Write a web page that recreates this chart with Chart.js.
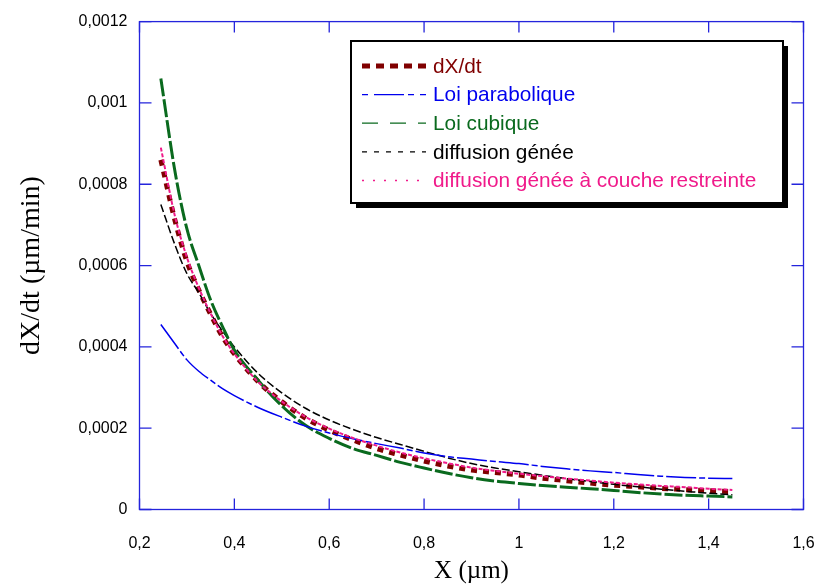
<!DOCTYPE html>
<html>
<head>
<meta charset="utf-8">
<script src="https://cdn.jsdelivr.net/npm/chart.js@4"></script>
<style>
  body { margin: 0; background: #fff; }
  #wrap { width: 818px; height: 586px; }
</style>
</head>
<body>
<div id="wrap"><canvas id="rateChart"></canvas></div>
<script>
// X positions (µm)
const xValues = [0.245, 0.275, 0.3, 0.325, 0.35, 0.375, 0.4, 0.45, 0.5, 0.55, 0.6, 0.65, 0.7, 0.75,
                 0.8, 0.85, 0.9, 0.95, 1.0, 1.05, 1.1, 1.15, 1.2, 1.25, 1.3, 1.35, 1.4, 1.45];

// dX/dt (µm/min) for each series
const dxdt = [0.00086, 0.00071, 0.00061, 0.00054, 0.00048, 0.000425, 0.000383, 0.000315, 0.000265, 0.000225,
              0.000195, 0.000171, 0.00015, 0.000134, 0.000119, 0.000107, 0.000097, 0.000091, 0.000085, 0.000077,
              0.000071, 0.000065, 0.00006, 0.000056, 0.000052, 0.000049, 0.000046, 0.000044];
const loiParabolique = [0.000455, 0.000407, 0.000368, 0.00034, 0.000318, 0.000297, 0.00028, 0.000251, 0.000227, 0.000205,
              0.000188, 0.000174, 0.000162, 0.000151, 0.000139, 0.00013, 0.000124, 0.000118, 0.000113, 0.000106,
              0.0001, 0.000095, 0.000091, 0.000086, 0.000082, 0.000079, 0.000077, 0.000076];
const loiCubique = [0.00106, 0.00083, 0.00069, 0.0006, 0.000515, 0.00045, 0.000392, 0.000318, 0.000255, 0.000207,
              0.000175, 0.00015, 0.000133, 0.000116, 0.000102, 0.000089, 0.000078, 0.00007, 0.000064, 0.000059,
              0.000055, 0.000051, 0.000047, 0.000042, 0.000038, 0.000035, 0.000033, 0.000031];
const diffusionGenee = [0.00075, 0.00065, 0.00058, 0.000533, 0.000482, 0.000439, 0.0004, 0.000335, 0.000287, 0.000249,
              0.00022, 0.000197, 0.000177, 0.00016, 0.000143, 0.000127, 0.000113, 0.000102, 0.000093, 0.000084,
              0.000076, 0.000069, 0.000062, 0.000056, 0.00005, 0.000045, 0.00004, 0.000036];
const diffusionCouche = [0.00089, 0.00072, 0.00062, 0.000545, 0.000482, 0.000427, 0.000383, 0.000314, 0.000266, 0.000228,
              0.000199, 0.000176, 0.000157, 0.00014, 0.000126, 0.000114, 0.000103, 0.000095, 0.000088, 0.000082,
              0.000076, 0.000071, 0.000066, 0.000062, 0.000058, 0.000055, 0.000051, 0.000048];

// axis ticks
const xTickValues = [0.2, 0.4, 0.6, 0.8, 1.0, 1.2, 1.4, 1.6];
const xTickLabels = ['0,2', '0,4', '0,6', '0,8', '1', '1,2', '1,4', '1,6'];
const yTickValues = [0, 0.0002, 0.0004, 0.0006, 0.0008, 0.001, 0.0012];
const yTickLabels = ['0', '0,0002', '0,0004', '0,0006', '0,0008', '0,001', '0,0012'];

const AXIS_BLUE = '#2424dc';

function pts(ys) {
    return xValues.map((x, i) => ({ x: x, y: ys[i] }));
}

// frame + inward tick marks
const framePlugin = {
    id: 'frame',
    afterDatasetsDraw(chart) {
        const ctx = chart.ctx;
        const a = chart.chartArea;
        const xs = chart.scales.x, ys = chart.scales.y;
        ctx.save();
        ctx.strokeStyle = AXIS_BLUE;
        ctx.lineWidth = 1.3;
        ctx.strokeRect(a.left, a.top, a.right - a.left, a.bottom - a.top);
        ctx.beginPath();
        xTickValues.forEach(v => {
            const px = xs.getPixelForValue(v);
            ctx.moveTo(px, a.bottom); ctx.lineTo(px, a.bottom - 11);
            ctx.moveTo(px, a.top); ctx.lineTo(px, a.top + 11);
        });
        yTickValues.forEach(v => {
            const py = ys.getPixelForValue(v);
            ctx.moveTo(a.left, py); ctx.lineTo(a.left + 12, py);
            ctx.moveTo(a.right, py); ctx.lineTo(a.right - 12, py);
        });
        ctx.stroke();
        ctx.restore();
    }
};

// boxed legend with drop shadow
const legendBoxPlugin = {
    id: 'legendBox',
    afterDraw(chart) {
        const ctx = chart.ctx;
        const bx = 351, by = 41, bw = 432, bh = 162;
        ctx.save();
        ctx.fillStyle = '#000';
        ctx.fillRect(bx + 5, by + 5, bw, bh);
        ctx.fillStyle = '#fff';
        ctx.fillRect(bx, by, bw, bh);
        ctx.strokeStyle = '#000';
        ctx.lineWidth = 2;
        ctx.strokeRect(bx, by, bw, bh);

        ctx.font = '20.8px "Liberation Sans", Arial, sans-serif';
        ctx.textBaseline = 'middle';
        chart.data.datasets.forEach((ds, i) => {
            const y = 66 + i * 28.6;
            ctx.beginPath();
            ctx.strokeStyle = ds.borderColor;
            ctx.lineWidth = ds.legendWidth;
            ctx.setLineDash(ds.legendDash);
            ctx.moveTo(362, y);
            ctx.lineTo(426, y);
            ctx.stroke();
            ctx.setLineDash([]);
            ctx.fillStyle = ds.textColor;
            ctx.fillText(ds.label, 433, y + 1);
        });
        ctx.restore();
    }
};

const ctx = document.getElementById('rateChart').getContext('2d');
const rateChart = new Chart(ctx, {
    type: 'line',
    data: {
        datasets: [{
            label: 'dX/dt',
            data: pts(dxdt),
            borderColor: '#800000',
            textColor: '#800000',
            borderWidth: 5,
            borderDash: [6, 6],
            legendDash: [8, 6],
            legendWidth: 5,
            order: 5
        }, {
            label: 'Loi parabolique',
            data: pts(loiParabolique),
            borderColor: '#0000ee',
            textColor: '#0000ee',
            borderWidth: 1.5,
            borderDash: [30, 3, 6, 3],
            legendDash: [6, 6, 30, 4],
            legendWidth: 1.3,
            order: 2
        }, {
            label: 'Loi cubique',
            data: pts(loiCubique),
            borderColor: '#0a6a1e',
            textColor: '#0a6a1e',
            borderWidth: 3,
            borderDash: [18, 3],
            legendDash: [16, 12],
            legendWidth: 1.3,
            order: 3
        }, {
            label: 'diffusion génée',
            data: pts(diffusionGenee),
            borderColor: '#000000',
            textColor: '#000000',
            borderWidth: 1.5,
            borderDash: [8, 3],
            legendDash: [5, 7],
            legendWidth: 1.2,
            order: 4
        }, {
            label: 'diffusion génée à couche restreinte',
            data: pts(diffusionCouche),
            borderColor: '#f01a8a',
            textColor: '#f01a8a',
            borderWidth: 2,
            borderDash: [4, 2],
            legendDash: [2, 9],
            legendWidth: 1.5,
            order: 1
        }]
    },
    options: {
        responsive: true,
        maintainAspectRatio: false,
        animation: false,
        layout: { padding: { top: 18, right: 14.5, left: 0, bottom: 0 } },
        elements: {
            point: { radius: 0 },
            line: { cubicInterpolationMode: 'monotone', fill: false, borderCapStyle: 'butt' }
        },
        scales: {
            x: {
                type: 'linear',
                min: 0.2,
                max: 1.6,
                afterFit: (scale) => {
                    scale.height = 76.5;
                    scale.paddingLeft = 0;
                    scale.paddingRight = 0;
                },
                afterBuildTicks: (scale) => { scale.ticks = xTickValues.map(v => ({ value: v })); },
                grid: { display: false, drawTicks: false },
                border: { display: false },
                ticks: {
                    padding: 24,
                    color: '#000',
                    font: { family: '"Liberation Sans", Arial, sans-serif', size: 16 },
                    maxRotation: 0,
                    callback: (v, i) => xTickLabels[i]
                },
                title: {
                    display: true,
                    text: 'X (µm)',
                    color: '#000',
                    font: { family: '"Liberation Serif", "Times New Roman", serif', size: 25 },
                    padding: { top: 0, bottom: 0 }
                }
            },
            y: {
                type: 'linear',
                min: 0,
                max: 0.0012,
                afterFit: (scale) => { scale.width = 139.5; },
                afterBuildTicks: (scale) => { scale.ticks = yTickValues.map(v => ({ value: v })); },
                grid: { display: false, drawTicks: false },
                border: { display: false },
                ticks: {
                    padding: 12,
                    color: '#000',
                    font: { family: '"Liberation Sans", Arial, sans-serif', size: 16 },
                    callback: (v, i) => yTickLabels[i]
                },
                title: {
                    display: true,
                    text: 'dX/dt (µm/min)',
                    color: '#000',
                    font: { family: '"Liberation Serif", "Times New Roman", serif', size: 28 },
                    padding: { top: 15, bottom: 0 }
                }
            }
        },
        plugins: {
            legend: { display: false },
            tooltip: { enabled: false }
        }
    },
    plugins: [framePlugin, legendBoxPlugin]
});
</script>
</body>
</html>
